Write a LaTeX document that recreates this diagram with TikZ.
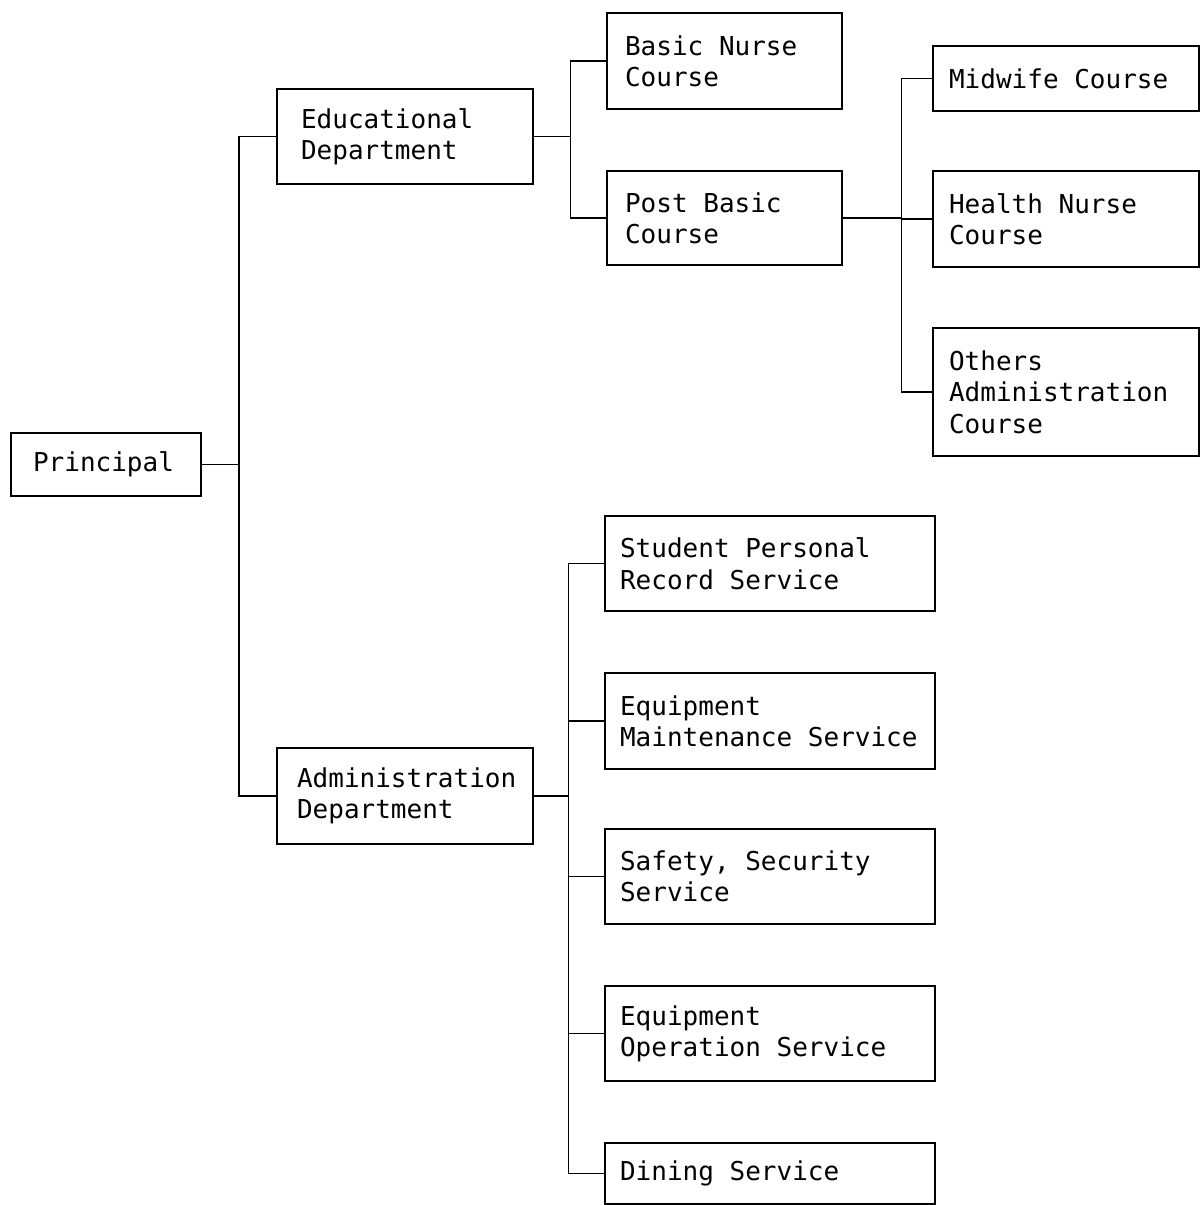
\documentclass[tikz,border=0pt]{standalone}
\usepackage{fontspec}
\newfontfamily\typefont{DejaVu Sans Mono}
\newcommand{\chartfont}{\typefont\fontsize{14.8pt}{17.9pt}\selectfont}
\usepackage{tikz}
\usetikzlibrary{positioning, calc}

\begin{document}
\begin{tikzpicture}[
  unit/.style={rectangle, draw, line width=1.2pt, font=\chartfont,
    align=left, anchor=north west, inner ysep=0pt, inner xsep=#1,
    execute at begin node={\spaceskip=0.602em\xspaceskip=0.602em\relax}},
  unit/.default={0.3cm},
  link/.style={line width=0.7pt},
]
\useasboundingbox (0,0) rectangle (24,-24.1);

% --- Top of the chart ---
\node[unit=0.44cm, text width=2.92cm, minimum height=1.26cm] (prin) at (0.2,-8.64) {Principal};

% --- Departments ---
\node[unit=0.48cm, text width=4.16cm, minimum height=1.9cm] (edu) at (5.52,-1.76) {Educational\\Department};
\node[unit=0.4cm, text width=4.32cm, minimum height=1.92cm] (adm) at (5.52,-14.94) {Administration\\Department};

% --- Courses ---
\node[unit=0.36cm, text width=3.98cm, minimum height=1.92cm] (basic) at (12.12,-0.24) {Basic Nurse\\Course};
\node[unit=0.36cm, text width=3.98cm, minimum height=1.88cm] (post) at (12.12,-3.4) {Post Basic\\Course};

\node[unit=0.32cm, text width=4.68cm, minimum height=1.3cm] (midw) at (18.64,-0.9) {Midwife Course};
\node[unit=0.32cm, text width=4.68cm, minimum height=1.92cm] (health) at (18.64,-3.4) {Health Nurse\\Course};
\node[unit=0.32cm, text width=4.68cm, minimum height=2.56cm] (others) at (18.64,-6.54) {Others\\Administration\\Course};

% --- Services ---
\node[unit=0.3cm, text width=6.0cm, minimum height=1.9cm] (record) at (12.08,-10.3) {Student Personal\\Record Service};
\node[unit=0.3cm, text width=6.0cm, minimum height=1.92cm] (maint) at (12.08,-13.44) {Equipment\\Maintenance Service};
\node[unit=0.3cm, text width=6.0cm, minimum height=1.9cm] (safety) at (12.08,-16.56) {Safety, Security\\Service};
\node[unit=0.3cm, text width=6.0cm, minimum height=1.9cm] (oper) at (12.08,-19.7) {Equipment\\Operation Service};
\node[unit=0.3cm, text width=6.0cm, minimum height=1.22cm] (dining) at (12.08,-22.84) {Dining Service};

% --- Connectors ---
\draw[link] (prin.east) -- ++(0.74,0) coordinate (spineA);
\draw[link] (spineA) |- (edu.west);
\draw[link] (spineA) |- (adm.west);

\draw[link] (edu.east) -- ++(0.72,0) coordinate (spineB);
\draw[link] (spineB) |- (basic.west);
\draw[link] (spineB) |- (post.west);

\draw[link] (post.east) -- ++(1.16,0) coordinate (spineC);
\draw[link] (spineC) |- (midw.west);
\draw[link] (spineC) |- (health.west);
\draw[link] (spineC) |- (others.west);

\draw[link] (adm.east) -- ++(0.68,0) coordinate (spineD);
\draw[link] (spineD) |- (record.west);
\draw[link] (spineD) |- (maint.west);
\draw[link] (spineD) |- (safety.west);
\draw[link] (spineD) |- (oper.west);
\draw[link] (spineD) |- (dining.west);

\end{tikzpicture}
\end{document}
